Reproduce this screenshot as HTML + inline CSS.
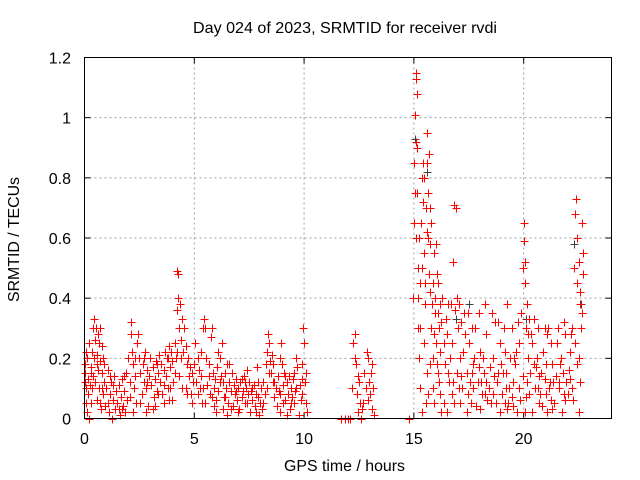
<!DOCTYPE html>
<html><head><meta charset="utf-8"><style>
body{margin:0;background:#fff}
svg{display:block;font-family:"Liberation Sans",sans-serif}
</style></head><body>
<svg id="chart" width="640" height="480" viewBox="0 0 640 480">
<rect width="640" height="480" fill="#fff"/>
<g id="grid"></g>
<g id="ticks"></g>
<g id="grey"></g>
<g id="red"></g>
<rect x="84.5" y="57.5" width="527" height="361" fill="none" stroke="#000" stroke-width="1"/>
<text x="193" y="33" font-size="16" textLength="304" lengthAdjust="spacingAndGlyphs">Day 024 of 2023, SRMTID for receiver rvdi</text>
<text x="284" y="471" font-size="16" textLength="121" lengthAdjust="spacingAndGlyphs">GPS time / hours</text>
<text transform="translate(19,302) rotate(-90)" font-size="16" textLength="125" lengthAdjust="spacingAndGlyphs">SRMTID / TECUs</text>
</svg>
<script>
const xTicks=[0,5,10,15,20];
const yTicks=[0,0.2,0.4,0.6,0.8,1,1.2];
const yTickLabels=["0","0.2","0.4","0.6","0.8","1","1.2"];
const segA=[[0,.15],[0,.12],[.03,.18],[.05,.1],[.08,.05],[.1,.2],[.12,.02],[.15,.13],[.18,.08],[.2,.25],[.22,0],[.25,.11],[.28,.17],[.3,.05],[.33,.22],[.35,.1],[.38,.14],[.4,.3],[.42,.2],[.45,.33],[.48,.26],[.5,.12],[.52,.3],[.55,.06],[.58,.21],[.6,.28],[.62,.16],[.65,.25],[.68,.1],[.7,.3],[.72,.19],[.75,.03],[.78,.24],[.8,.15],[.82,.2],[.85,.08],[.88,.18],[.9,.12],[.95,.04],[1,.1],[1.05,.16],[1.1,.02],[1.15,.08],[1.2,.12],[1.25,0],[1.3,.06],[1.35,.14],[1.4,.03],[1.45,.09],[1.5,.05],[1.55,.11],[1.6,.01],[1.65,.07],[1.7,.13],[1.75,.04],[1.8,.09],[1.85,.02],[1.9,.15],[1.95,.06],[2,.2],[2.05,.12],[2.1,.28],[2.12,.32],[2.15,.22],[2.2,.18],[2.25,.1],[2.3,.14],[2.35,.05],[2.4,.25],[2.45,.28],[2.5,.2]];
const segB=[[2.55,.15],[2.6,.08],[2.65,.18],[2.7,.12],[2.75,.22],[2.8,.1],[2.85,.16],[2.9,.04],[2.95,.14],[3,.2],[3.05,.11],[3.1,.17],[3.15,.07],[3.2,.13],[3.25,.19],[3.3,.09],[3.35,.15],[3.4,.21],[3.45,.12],[3.5,.18],[3.55,.08],[3.6,.16],[3.65,.22],[3.7,.14],[3.75,.2],[3.8,.1],[3.85,.24],[3.9,.17],[3.95,.22],[4,.19],[4.05,.12],[4.1,.25],[4.15,.2],[4.2,.36],[4.22,.49],[4.25,.48],[4.28,.4],[4.3,.3],[4.35,.38],[4.4,.26],[4.45,.33],[4.5,.22],[4.55,.3],[4.6,.24],[4.65,.18],[4.7,.2],[4.75,.14],[4.8,.17],[4.85,.08],[4.9,.15],[4.95,.12],[5,.18],[3.2,.04],[3.6,.05],[4,.06],[2.8,.02],[3.9,.1],[4.3,.14],[4.6,.1]];
const segC=[[5.05,.25],[5.1,.12],[5.15,.08],[5.2,.16],[5.25,.1],[5.3,.14],[5.35,.05],[5.4,.3],[5.45,.33],[5.5,.3],[5.55,.2],[5.6,.11],[5.65,.18],[5.7,.08],[5.75,.27],[5.8,.3],[5.85,.15],[5.9,.1],[5.95,.13],[6,.06],[6.05,.17],[6.1,.09],[6.15,.2],[6.2,.14],[6.25,.25],[6.3,.12],[6.35,.07],[6.4,.15],[6.45,.1],[6.5,.18],[6.55,.05],[6.6,.12],[6.65,.09],[6.7,.15],[6.75,.04],[6.8,.11],[6.85,.08],[6.9,.13],[6.95,.06],[7,.1],[7.05,.03],[7.1,.12],[7.15,.07],[7.2,.09],[7.25,.14],[7.3,.05],[7.35,.1],[7.4,.16],[7.45,.08],[7.5,.12],[7.55,.02],[7.6,.09],[7.65,.06],[7.7,.11],[7.75,.04],[7.8,.08],[7.85,.17],[7.9,.07],[7.95,.01],[8,.05],[8.05,.1],[8.1,.03],[8.15,.12],[8.2,.08],[8.25,.18],[8.3,.22],[8.35,.28],[8.4,.25],[8.45,.19],[8.5,.15],[8.55,.21],[8.6,.12],[8.65,.07],[8.7,.1],[8.75,.04],[8.8,.14],[8.85,.09],[8.9,.2],[8.95,.25],[9,.18],[9.05,.11],[9.1,.15],[9.15,.06],[9.2,.12],[9.25,.08],[9.3,.14],[9.35,.03],[9.4,.1],[9.45,.07],[9.5,.13],[9.55,.05],[9.6,.09],[9.65,.2],[9.7,.17],[9.75,.01],[9.8,.11],[9.85,.06],[9.9,.18],[9.95,.3],[10,.25],[10.05,.12],[10.1,.05],[10.15,.02],[5.5,.05],[6,.02],[6.5,.01],[7,.02],[5.8,.07],[6.3,.03],[8.9,.02],[9.2,.01]];
const segD=[[11.7,0],[11.85,0],[12,0],[12.1,0],[12.2,.1],[12.25,.25],[12.3,.28],[12.35,.18],[12.4,.08],[12.45,.02],[12.5,.12],[12.55,.05],[12.6,0],[12.7,.05],[12.75,.15],[12.8,.1],[12.85,.22],[12.9,.2],[12.95,.12],[13,.08],[13.05,.15],[13.1,.03],[13.15,.1],[13.2,.01],[12.65,.03],[12.9,.06],[13.1,.18],[12.3,.2],[12.45,.14]];
const segE=[[14.8,0],[14.95,.4],[15,.65],[15.02,.85],[15.05,1.01],[15.08,1.13],[15.1,1.15],[15.12,1.08],[15.1,.92],[15.15,.75],[15.18,.5],[15.2,.3],[15.22,.2],[15.25,.6],[15.3,.45],[15.35,.8],[15.4,.85],[15.45,.55],[15.5,.38],[15.55,.7],[15.6,.95],[15.62,.85],[15.65,.6],[15.7,.88],[15.72,.7],[15.75,.42],[15.8,.3],[15.85,.2],[15.9,.55],[15.95,.35],[16,.25],[16.05,.48],[16.1,.15],[16.15,.3],[16.2,.22],[16.3,.4],[16.4,.18],[16.5,.28],[16.6,.12],[16.7,.38],[16.8,.52],[16.85,.71],[16.9,.7],[16.95,.4],[17,.3],[17.1,.2],[17.2,.1],[17.3,.35],[17.4,.15],[17.5,.25],[17.6,.05],[17.7,.18],[17.8,.3],[17.9,.12],[18,.22],[18.1,.08],[18.2,.15],[18.3,.28],[18.4,.1],[18.5,.05],[18.6,.2],[18.7,.32],[18.8,.12],[18.9,.25],[19,.08],[19.1,.3],[19.2,.15],[19.3,.05],[19.4,.2],[19.5,.12],[19.6,.18],[19.7,.02],[19.8,.25],[19.9,.35],[19.95,.5],[20,.59],[20.02,.65],[20.05,.45],[20.1,.3],[20.15,.38],[20.2,.2],[20.25,.33],[20.3,.15],[20.4,.25],[20.5,.1],[20.6,.2],[20.7,.05],[20.8,.15],[20.9,.22],[21,.08],[21.1,.3],[21.2,.12],[21.3,.18],[21.4,.05],[21.5,.25],[21.6,.1],[21.7,.2],[21.8,.15],[21.9,.28],[22,.08],[22.1,.22],[22.2,.3],[22.3,.5],[22.35,.68],[22.4,.73],[22.45,.6],[22.5,.52],[22.55,.42],[22.6,.3],[22.65,.65],[22.7,.55],[22.5,.2]];
const segF=[[15.3,.1],[15.6,.15],[15.9,.05],[16.2,.08],[16.5,.02],[16.8,.12],[17.1,.05],[17.4,.02],[17.7,.1],[18,.03],[18.3,.12],[18.6,.08],[18.9,.02],[19.2,.1],[19.5,.04],[19.8,.1],[20.1,.07],[20.4,.02],[20.7,.14],[21,.18],[21.3,.03],[21.6,.12],[21.9,.06],[22.2,.1],[22.5,.02],[16.05,.18],[16.35,.05],[16.65,.2],[16.95,.15],[17.25,.22],[17.55,.12],[17.85,.04],[18.15,.2],[18.45,.17],[18.75,.05],[19.05,.15],[19.35,.1],[19.65,.22],[19.95,.14],[20.25,.08],[20.55,.17],[20.85,.04],[21.15,.1],[21.45,.14],[21.75,.02],[22.05,.16],[22.35,.25],[22.65,.35],[15.45,.25],[15.75,.18],[16.45,.33],[17.35,.28],[18.55,.35],[19.25,.38],[20.35,.28],[21.05,.28]];
const segG=[[15.05,.75],[15.1,.6],[15.15,.9],[15.2,.4],[15.28,.3],[15.33,.65],[15.38,.5],[15.42,.72],[15.48,.8],[15.52,.45],[15.58,.62],[15.63,.75],[15.68,.48],[15.73,.58],[15.78,.65],[15.82,.38],[15.88,.45],[15.92,.28],[15.98,.4],[16.02,.58],[16.08,.35],[16.12,.45],[16.18,.38],[16.25,.32],[16.35,.25],[16.55,.38],[16.75,.25],[16.88,.36],[17.05,.38],[17.15,.32],[17.45,.35],[17.65,.3],[17.95,.35],[18.25,.38],[18.85,.32],[19.15,.22],[19.45,.3],[19.75,.32],[20.08,.52],[20.18,.28],[20.45,.33],[20.65,.3],[20.95,.3],[21.25,.25],[21.55,.3],[21.85,.32],[22.15,.28],[22.42,.45],[22.58,.38],[22.68,.48],
[15.35,.02],[15.55,.05],[15.85,.1],[16.15,.12],[16.55,.15],[16.85,.05],[17.15,.14],[17.45,.08],[17.75,.2],[18.05,.12],[18.35,.06],[18.65,.14],[18.95,.18],[19.25,.03],[19.55,.2],[19.85,.06],[20.15,.12],[20.45,.18],[20.75,.08],[21.05,.02],[21.35,.12],[21.65,.18],[21.95,.12],[22.25,.06],[22.55,.12],[15.65,.08],[16.25,.02],[16.75,.08],[17.05,.1],[17.65,.15],[18.25,.08],[18.85,.15],[19.45,.07],[20.05,.02],[20.65,.1],[21.25,.06],[21.85,.08],[22.45,.18],[17.95,.17],[19.15,.05],[20.95,.13],[22.1,.13],
[.05,.22],[.3,.15],[.55,.18],[.8,.1],[1.05,.05],[1.3,.11],[1.55,.03],[1.8,.14],[2.05,.07],[2.3,.2],[2.55,.05],[2.85,.12],[3.1,.03],[3.35,.08],[3.6,.11],[3.85,.06],[4.1,.15],[4.4,.2],[4.65,.08],[4.9,.05],[5.15,.2],[5.4,.1],[5.65,.14],[5.9,.04],[6.15,.12],[6.4,.07],[6.65,.03],[6.9,.09],[7.15,.13],[7.4,.05],[7.65,.1],[7.9,.12],[8.15,.05],[8.4,.15],[8.65,.12],[8.9,.08],[9.15,.14],[9.4,.05],[9.65,.1],[9.9,.08],[10.1,.15],[.7,.05],[1.15,.14],[1.7,.03],[2.2,.02],[2.7,.2],[3.3,.18],[3.8,.2],[4.2,.22],[4.45,.1],[5.3,.22],[6.1,.22],[6.6,.18],[7.3,.12],[7.8,.02],[8.3,.1],[8.6,.18],[9.05,.05],[9.55,.15],[9.9,.13]];
const greyPts=[[15.03,.93],[15.6,.82],[16.9,.33],[17.5,.38],[20.1,.33],[22.3,.58],[22.6,.38]];

const X0=84.5,X1=611.5,Y0=418.5,Y1=57.5,XMAX=24,YMAX=1.2;
function sx(t){return X0+(X1-X0)*t/XMAX;}
function sy(v){return Y0-(Y0-Y1)*v/YMAX;}
const NS="http://www.w3.org/2000/svg";
function mk(tag,attrs,parent){const e=document.createElementNS(NS,tag);for(const k in attrs)e.setAttribute(k,attrs[k]);parent.appendChild(e);return e;}
const grid=document.getElementById('grid'),ticks=document.getElementById('ticks');
xTicks.forEach(t=>{
  const x=sx(t);
  if(t>0){const g=mk('line',{x1:x,x2:x,y1:Y1,y2:Y0,stroke:'#a0a0a0','stroke-dasharray':'2,3'},grid);
  
  }
  mk('line',{x1:x,x2:x,y1:Y0,y2:Y0-6,stroke:'#000'},ticks);
  mk('line',{x1:x,x2:x,y1:Y1,y2:Y1+6,stroke:'#000'},ticks);
  const l=mk('text',{x:x,y:444,'font-size':16,'text-anchor':'middle'},ticks);
  l.textContent=String(t);
  
  
});
yTicks.forEach((v,i)=>{
  const y=sy(v);
  if(v>0&&v<YMAX){const g=mk('line',{x1:X0,x2:X1,y1:y,y2:y,stroke:'#a0a0a0','stroke-dasharray':'2,3'},grid);
  
  }
  mk('line',{x1:X0,x2:X0+6,y1:y,y2:y,stroke:'#000'},ticks);
  mk('line',{x1:X1,x2:X1-6,y1:y,y2:y,stroke:'#000'},ticks);
  const l=mk('text',{x:71,y:y+6,'font-size':16,'text-anchor':'end'},ticks);
  l.textContent=yTickLabels[i];
  
  
});
function plus(parent,pts,color,name){
  let d='';
  pts.forEach(p=>{const x=Math.round(sx(p[0]))+0.5,y=Math.round(sy(p[1]))+0.5;d+=`M${x-4} ${y}h8M${x} ${y-4}v8`;});
  const e=mk('path',{d:d,stroke:color,'stroke-width':1,fill:'none'},parent);
  
  
}
plus(document.getElementById('grey'),greyPts,'#404040','grey-points');
const red=document.getElementById('red');
[segA,segB,segC,segD,segE,segF,segG].forEach(s=>plus(red,s,'#ff0000','red-points'));
</script>
</body></html>
